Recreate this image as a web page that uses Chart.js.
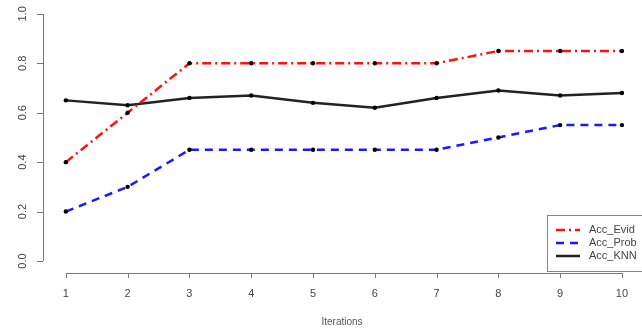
<!DOCTYPE html>
<html>
<head>
<meta charset="utf-8">
<script src="https://cdn.jsdelivr.net/npm/chart.js@4/dist/chart.umd.min.js"></script>
<style>
  html, body { margin: 0; padding: 0; background: #fff; }
  #wrap { width: 642px; height: 328px; position: relative; }
</style>
</head>
<body>
<div id="wrap"><canvas id="chart"></canvas></div>
<script>
const iterations = [1, 2, 3, 4, 5, 6, 7, 8, 9, 10]
const accEvid = [0.4, 0.6, 0.8, 0.8, 0.8, 0.8, 0.8, 0.85, 0.85, 0.85]
const accProb = [0.2, 0.3, 0.45, 0.45, 0.45, 0.45, 0.45, 0.5, 0.55, 0.55]
const accKnn = [0.65, 0.63, 0.66, 0.67, 0.64, 0.62, 0.66, 0.69, 0.67, 0.68]
const yTicks = [0, 0.2, 0.4, 0.6, 0.8, 1.0]
const yTickLabels = ['0.0', '0.2', '0.4', '0.6', '0.8', '1.0']
const xLabel = 'Iterations'

const toPoints = (vals) => vals.map((v, i) => ({ x: iterations[i], y: v }))

// R-style axes: separate axis lines with outward ticks, rotated y labels
const rAxes = {
    id: 'rAxes',
    afterDraw(chart) {
        const c = chart.ctx
        const xs = chart.scales.x
        const ys = chart.scales.y
        const axisY = 273
        const axisX = 43
        c.save()
        c.strokeStyle = '#777'
        c.lineWidth = 1
        c.fillStyle = '#444'
        c.font = '11px "Liberation Sans", Arial, sans-serif'

        // x axis
        const x0 = xs.getPixelForValue(iterations[0])
        const x1 = xs.getPixelForValue(iterations[iterations.length - 1])
        c.beginPath()
        c.moveTo(x0, axisY + 0.5)
        c.lineTo(x1, axisY + 0.5)
        iterations.forEach(v => {
            const px = Math.round(xs.getPixelForValue(v)) + 0.5
            c.moveTo(px, axisY)
            c.lineTo(px, axisY + 5)
        })
        c.stroke()
        c.textAlign = 'center'
        c.textBaseline = 'middle'
        iterations.forEach(v => {
            c.fillText(String(v), xs.getPixelForValue(v), 294)
        })

        // y axis
        const yTop = ys.getPixelForValue(yTicks[yTicks.length - 1])
        const yBot = ys.getPixelForValue(yTicks[0])
        c.beginPath()
        c.moveTo(axisX + 0.5, yTop)
        c.lineTo(axisX + 0.5, yBot)
        yTicks.forEach(v => {
            const py = Math.round(ys.getPixelForValue(v)) + 0.5
            c.moveTo(axisX, py)
            c.lineTo(axisX - 6, py)
        })
        c.stroke()
        yTicks.forEach((v, i) => {
            c.save()
            c.translate(23, ys.getPixelForValue(v))
            c.rotate(-Math.PI / 2)
            c.fillText(yTickLabels[i], 0, 0)
            c.restore()
        })

        // axis title
        c.font = '10px "Liberation Sans", Arial, sans-serif'
        c.fillStyle = '#555'
        c.fillText(xLabel, 342, 322)
        c.restore()
    }
}

// legend box inside the plot, bottom right
const rLegend = {
    id: 'rLegend',
    afterDraw(chart) {
        const c = chart.ctx
        c.save()
        c.fillStyle = '#fff'
        c.fillRect(547.5, 215.5, 100, 56)
        c.strokeStyle = '#888'
        c.lineWidth = 1
        c.strokeRect(547.5, 215.5, 100, 56)
        c.font = '11px "Liberation Sans", Arial, sans-serif'
        c.textAlign = 'left'
        c.textBaseline = 'middle'
        chart.data.datasets.forEach((ds, i) => {
            const y = 230 + i * 13
            c.strokeStyle = ds.borderColor
            c.lineWidth = 2.5
            c.setLineDash(ds.borderDash || [])
            c.beginPath()
            c.moveTo(556, y)
            c.lineTo(580, y)
            c.stroke()
            c.setLineDash([])
            c.fillStyle = '#444'
            c.fillText(ds.label, 589, y)
        })
        c.restore()
    }
}

const common = {
    borderWidth: 2.5,
    pointRadius: 2.2,
    pointBackgroundColor: '#000',
    pointBorderColor: '#000',
    pointBorderWidth: 0,
    tension: 0,
}

new Chart(document.getElementById('chart'), {
    type: 'line',
    data: {
        datasets: [
            { ...common, label: 'Acc_Evid', data: toPoints(accEvid), borderColor: '#ff1010', borderDash: [9, 4, 2, 4] },
            { ...common, label: 'Acc_Prob', data: toPoints(accProb), borderColor: '#1a1aff', borderDash: [8, 6] },
            { ...common, label: 'Acc_KNN', data: toPoints(accKnn), borderColor: '#222' },
        ],
    },
    options: {
        responsive: true,
        maintainAspectRatio: false,
        animation: false,
        layout: { padding: { left: 43, top: 4, right: 0, bottom: 55 } },
        plugins: {
            legend: { display: false },
            tooltip: { enabled: false },
        },
        scales: {
            x: { type: 'linear', display: false, min: 0.63, max: 10.26 },
            y: { display: false, min: -0.0486, max: 1.04 },
        },
    },
    plugins: [rAxes, rLegend],
})
</script>
</body>
</html>
